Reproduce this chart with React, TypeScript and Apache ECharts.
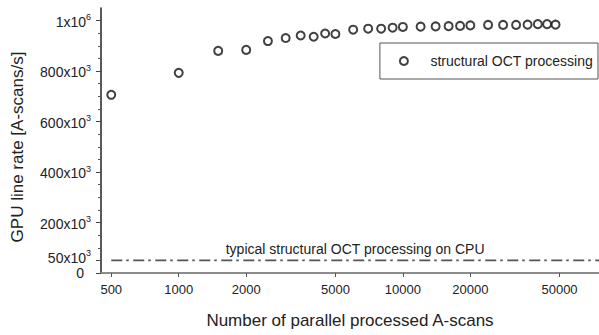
import React, { useEffect, useRef } from "react";
import * as echarts from "echarts";

// Number of parallel processed A-scans
const scanCounts = [
  500, 1000, 1500, 2000, 2500, 3000, 3500, 4000, 4500, 5000, 6000, 7000, 8000, 9000,
  10000, 12000, 14000, 16000, 18000, 20000, 24000, 28000, 32000, 36000, 40000, 44000, 48000,
];
// GPU line rate [A-scans/s]
const gpuRates = [
  706000, 793000, 880000, 884000, 919000, 931000, 941000, 936000, 949000, 947000, 964000,
  968000, 968000, 972000, 975000, 976000, 977000, 978000, 979000, 981000, 983000, 983000,
  983000, 984000, 986000, 986000, 984000,
];
// CPU reference level
const cpuX = [500, 75000];
const cpuRate = 50000;

const xTickValues = [500, 1000, 2000, 5000, 10000, 20000, 50000];
const yTickValues = [0, 50000, 200000, 400000, 600000, 800000, 1000000];
const yTickMantissa = ["0", "50x10", "200x10", "400x10", "600x10", "800x10", "1x10"];
const yTickExponent = ["", "3", "3", "3", "3", "3", "6"];
// the 50x10^3 label is drawn on its own (label-only) axis so it can sit slightly above its tick
const yRaisedLabelValues = [50000];

const seriesName = "structural OCT processing";
const cpuLabel = "typical structural OCT processing on CPU";
const xName = "Number of parallel processed A-scans";
const yName = "GPU line rate [A-scans/s]";

const FONT = "'Liberation Sans', Arial, Helvetica, sans-serif";

const yLabelFormatter = (v: number) => {
  const i = yTickValues.indexOf(v);
  if (i < 0) return "";
  if (!yTickExponent[i]) return `{z|${yTickMantissa[i]}}`;
  return `{m|${yTickMantissa[i]}}{s|${yTickExponent[i]}}`;
};
const yRich = {
  z: { fontSize: 14, fontFamily: FONT, color: "#222", lineHeight: 16, padding: [0, 7, 0, 0] },
  m: { fontSize: 14, fontFamily: FONT, color: "#222", lineHeight: 16, verticalAlign: "bottom" },
  s: { fontSize: 9, fontFamily: FONT, color: "#222", lineHeight: 10, verticalAlign: "top" },
};

export default function App() {
  const ref = useRef<HTMLDivElement>(null);
  useEffect(() => {
    if (!ref.current) return;
    const chart = echarts.init(ref.current, null, { renderer: "svg" });
    chart.setOption({
      animation: false,
      backgroundColor: "#ffffff",
      textStyle: { fontFamily: FONT },
      grid: { left: 101, top: 8, right: 0, bottom: 62, containLabel: false },
      legend: {
        data: [seriesName],
        right: 1,
        top: 43,
        orient: "horizontal",
        itemWidth: 43,
        itemHeight: 8,
        itemGap: 5,
        padding: [11, 5, 11, 19],
        borderColor: "#555",
        borderWidth: 1,
        textStyle: { fontFamily: FONT, fontSize: 14, color: "#222" },
      },
      xAxis: [
        {
          type: "log",
          logBase: 10,
          min: 450,
          max: 75000,
          name: xName,
          nameLocation: "middle",
          nameGap: 39,
          nameTextStyle: { fontFamily: FONT, fontSize: 17, color: "#222" },
          axisLine: { show: true, lineStyle: { color: "#777", width: 1.5 } },
          axisTick: {
            show: true,
            customValues: xTickValues,
            length: 4,
            lineStyle: { color: "#555", width: 1 },
          },
          axisLabel: {
            customValues: xTickValues,
            margin: 10,
            fontSize: 13,
            color: "#222",
            fontFamily: FONT,
            formatter: (v: number) => String(Math.round(v)),
          },
          splitLine: { show: false },
          minorTick: { show: false },
        },
        {
          type: "value",
          position: "top",
          min: 0,
          max: 1,
          axisLine: { show: true, lineStyle: { color: "#888", width: 1.5 } },
          axisTick: { show: false },
          axisLabel: { show: false },
          splitLine: { show: false },
        },
      ],
      yAxis: [
        {
          type: "value",
          position: "left",
          min: 0,
          max: 1050000,
          interval: 200000,
          name: yName,
          nameLocation: "middle",
          nameGap: 75,
          nameTextStyle: { fontFamily: FONT, fontSize: 17, color: "#222", padding: [0, 13, 0, 0] },
          axisLine: { show: true, lineStyle: { color: "#222", width: 1.5 } },
          axisTick: {
            show: true,
            customValues: yTickValues,
            length: 5,
            lineStyle: { color: "#444", width: 1 },
          },
          minorTick: {
            show: true,
            splitNumber: 4,
            length: 3,
            lineStyle: { color: "#555", width: 1 },
          },
          axisLabel: {
            customValues: yTickValues.filter((v) => !yRaisedLabelValues.includes(v)),
            showMinLabel: true,
            margin: 10,
            color: "#222",
            fontFamily: FONT,
            formatter: yLabelFormatter,
            rich: yRich,
          },
          splitLine: { show: false },
        },
        {
          type: "value",
          position: "left",
          offset: 0,
          min: 0,
          max: 1050000,
          interval: 200000,
          axisLine: { show: false },
          axisTick: { show: false },
          minorTick: { show: false },
          splitLine: { show: false },
          axisLabel: {
            customValues: yRaisedLabelValues,
            showMinLabel: true,
            margin: 10,
            padding: [0, 0, 7, 0],
            color: "#222",
            fontFamily: FONT,
            formatter: yLabelFormatter,
            rich: yRich,
          },
        },
      ],
      series: [
        {
          name: seriesName,
          type: "scatter",
          xAxisIndex: 0,
          yAxisIndex: 0,
          data: scanCounts.map((x, i) => [x, gpuRates[i]]),
          symbol: "emptyCircle",
          symbolSize: 8,
          itemStyle: { color: "#111", borderColor: "#111", borderWidth: 1.9 },
          z: 3,
        },
        {
          name: "cpu",
          type: "line",
          xAxisIndex: 0,
          yAxisIndex: 0,
          data: cpuX.map((x) => [x, cpuRate]),
          showSymbol: false,
          symbol: "none",
          lineStyle: { color: "#555", width: 1.8, type: [11, 4, 2.5, 4.5] },
          markLine: {
            silent: true,
            symbol: "none",
            lineStyle: { color: "rgba(0,0,0,0)", width: 1, type: "solid" },
            label: {
              show: true,
              position: "insideMiddleTop",
              distance: 4,
              formatter: cpuLabel,
              fontFamily: FONT,
              fontSize: 14,
              color: "#222",
            },
            emphasis: { disabled: true },
            data: [[{ coord: [cpuX[0], cpuRate] }, { coord: [cpuX[1], cpuRate] }]],
          },
        },
      ],
    });
    return () => chart.dispose();
  }, []);
  return (
    <div
      ref={ref}
      style={{ position: "absolute", left: 0, top: 0, width: 599, height: 335 }}
    />
  );
}
